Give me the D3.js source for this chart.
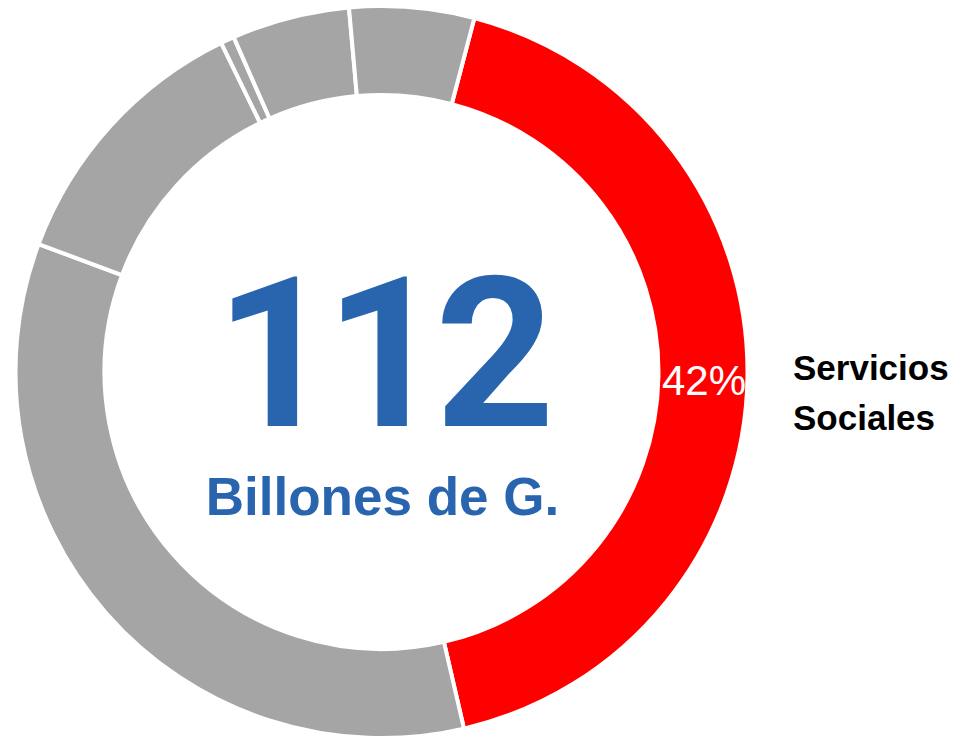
<!DOCTYPE html>
<html>
<head>
<meta charset="utf-8">
<script src="https://cdn.jsdelivr.net/npm/d3@7"></script>
<style>
  html, body { margin: 0; padding: 0; background: #fff; }
  svg { display: block; }
</style>
</head>
<body>
<svg class="donut" width="958" height="738"></svg>
<script>
// slices, clockwise starting from the red one
var categories = ["Servicios Sociales", "Servicio de la Deuda", "Administración Gubernamental", "Otros", "Servicios Económicos", "Defensa y Seguridad"];
var values = [42.3, 34.3, 12.1, 0.6, 5.2, 5.5];
var colors = ["#ff0000", "#a5a5a5", "#a5a5a5", "#a5a5a5", "#a5a5a5", "#a5a5a5"];
var totalLabel = "112";
var unitLabel = "Billones de G.";

var svg = d3.select("svg.donut");
var cx = 381.5, cy = 372;
var outerR = 366, innerR = 277;

var start = 14.7 * Math.PI / 180;
var pie = d3.pie().sort(null).value(function(d){ return d; })
    .startAngle(start).endAngle(start + 2 * Math.PI);
var arcs = pie(values);

var arc = d3.arc().innerRadius(innerR).outerRadius(outerR);

var g = svg.append("g").attr("transform", "translate(" + cx + "," + cy + ")");

g.selectAll("path.slice")
    .data(arcs)
    .enter().append("path")
    .attr("class", "slice")
    .attr("d", arc)
    .attr("fill", function(d, i){ return colors[i]; })
    .attr("stroke", "#fff")
    .attr("stroke-width", 4)
    .attr("stroke-linejoin", "miter");

// percent label on the red slice
var pct = arcs[0];
g.append("text")
    .attr("x", (innerR + outerR) / 2 + 1)
    .attr("y", 23)
    .attr("text-anchor", "middle")
    .style("font-family", "'Liberation Sans', Arial, sans-serif")
    .style("font-size", "42px")
    .style("fill", "#fff")
    .text(Math.round(pct.data) + "%");

// category label to the right
var lbl = svg.append("text")
    .style("font-family", "'Liberation Sans', Arial, sans-serif")
    .style("font-weight", "bold")
    .style("font-size", "35px")
    .style("fill", "#000");
categories[0].split(" ").forEach(function(w, i){
    lbl.append("tspan").attr("x", 793).attr("y", 380 + i * 50).text(w);
});

// centre total
svg.append("text")
    .attr("x", 380)
    .attr("y", 426)
    .attr("text-anchor", "middle")
    .style("font-family", "Roboto, 'Liberation Sans', sans-serif")
    .style("font-weight", "bold")
    .style("font-size", "209px")
    .style("letter-spacing", "-10px")
    .style("fill", "#2964ae")
    .text(totalLabel);

svg.append("text")
    .attr("x", 382.5)
    .attr("y", 515)
    .attr("text-anchor", "middle")
    .style("font-family", "'Liberation Sans', Arial, sans-serif")
    .style("font-weight", "bold")
    .style("font-size", "53px")
    .style("fill", "#2964ae")
    .text(unitLabel);
</script>
</body>
</html>
